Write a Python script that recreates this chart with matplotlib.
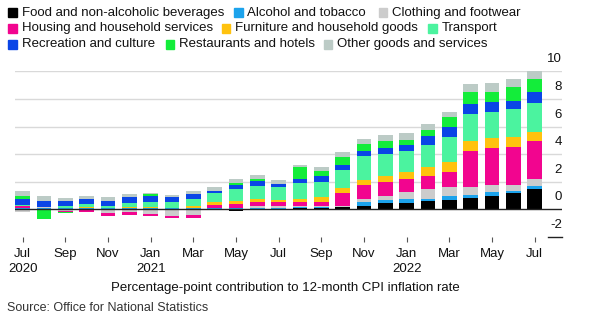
import matplotlib
matplotlib.use("Agg")
import matplotlib.pyplot as plt
import numpy as np
from matplotlib.transforms import offset_copy
from matplotlib.patches import Rectangle

plt.rcParams['font.family'] = ['Liberation Sans', 'DejaVu Sans']

months = ["Jul 2020", "Aug 2020", "Sep 2020", "Oct 2020", "Nov 2020", "Dec 2020",
          "Jan 2021", "Feb 2021", "Mar 2021", "Apr 2021", "May 2021", "Jun 2021",
          "Jul 2021", "Aug 2021", "Sep 2021", "Oct 2021", "Nov 2021", "Dec 2021",
          "Jan 2022", "Feb 2022", "Mar 2022", "Apr 2022", "May 2022", "Jun 2022",
          "Jul 2022"]

food = [-0.05, -0.03, -0.03, -0.05, 0.02, -0.04, -0.03, -0.05, -0.08, -0.05, -0.10, -0.05,
        0.04, 0.10, 0.10, 0.14, 0.27, 0.48, 0.48, 0.63, 0.68, 0.80, 0.99, 1.16, 1.45]
alcohol = [0.12, 0.12, 0.10, 0.10, 0.08, 0.10, 0.10, 0.10, 0.10, 0.08, 0.07, 0.10,
           0.07, 0.07, 0.10, 0.05, 0.25, 0.19, 0.24, 0.14, 0.29, 0.22, 0.29, 0.17, 0.24]
clothing = [-0.15, 0.02, -0.08, 0.02, -0.25, -0.18, -0.34, -0.45, -0.34, -0.03, 0.05, 0.12,
            0.10, 0.10, 0.07, 0.07, 0.24, 0.31, 0.51, 0.68, 0.68, 0.58, 0.48, 0.43, 0.48]
housing = [0.10, -0.05, -0.05, -0.12, -0.22, -0.20, -0.14, -0.14, -0.20, 0.24, 0.29, 0.34,
           0.29, 0.29, 0.29, 0.89, 0.97, 1.01, 0.97, 0.97, 1.06, 2.66, 2.71, 2.78, 2.80]
furniture = [0.04, 0.00, 0.02, 0.04, 0.02, 0.04, 0.06, 0.03, 0.14, 0.24, 0.19, 0.19,
             0.19, 0.17, 0.31, 0.39, 0.41, 0.41, 0.51, 0.68, 0.70, 0.72, 0.72, 0.68, 0.65]
transport = [0.08, 0.05, 0.10, 0.22, 0.14, 0.29, 0.34, 0.43, 0.48, 0.65, 0.84, 0.96,
             0.96, 1.14, 1.11, 1.30, 1.69, 1.64, 1.55, 1.57, 1.86, 1.91, 1.86, 2.03, 2.10]
recreation = [0.38, 0.43, 0.39, 0.34, 0.36, 0.43, 0.48, 0.36, 0.39, 0.14, 0.34, 0.36,
              0.19, 0.34, 0.43, 0.39, 0.43, 0.41, 0.41, 0.65, 0.68, 0.77, 0.72, 0.63, 0.75]
restaurants = [0.24, -0.60, -0.12, 0.00, 0.00, 0.00, 0.10, 0.00, 0.00, 0.00, 0.14, 0.14,
               0.00, 0.82, 0.39, 0.58, 0.46, 0.51, 0.36, 0.43, 0.72, 0.82, 0.75, 1.01, 0.97]
other = [0.34, 0.34, 0.24, 0.24, 0.24, 0.22, 0.12, 0.14, 0.22, 0.27, 0.24, 0.29,
         0.29, 0.17, 0.29, 0.36, 0.41, 0.46, 0.48, 0.43, 0.41, 0.60, 0.60, 0.56, 0.65]

categories = ["Food and non-alcoholic beverages", "Alcohol and tobacco", "Clothing and footwear",
              "Housing and household services", "Furniture and household goods", "Transport",
              "Recreation and culture", "Restaurants and hotels", "Other goods and services"]
colors = ["#000000", "#1ca3ec", "#cccccc", "#f2058f", "#ffc20e", "#4bf39f",
          "#0a45e6", "#13ed3a", "#bccbc6"]
series = [food, alcohol, clothing, housing, furniture, transport, recreation, restaurants, other]

tick_pos = list(range(0, 25, 2))
tick_labels = ["Jul\n2020", "Sep", "Nov", "Jan\n2021", "Mar", "May", "Jul", "Sep", "Nov",
               "Jan\n2022", "Mar", "May", "Jul"]
ytick_vals = [-2, 0, 2, 4, 6, 8, 10]
ytick_labels = ["-2", "0", "2", "4", "6", "8", "10"]

W, H = 591, 324
fig = plt.figure(figsize=(W / 100, H / 100), dpi=100)
ax = fig.add_axes([15 / W, 1 - 236.9 / H, 547 / W, 165.6 / H])

x = np.arange(len(months))
pos_base = np.zeros(len(months))
neg_base = np.zeros(len(months))
for vals, col in zip(series, colors):
    v = np.array(vals, dtype=float)
    p = np.where(v > 0, v, 0)
    n = np.where(v < 0, v, 0)
    ax.bar(x, p, bottom=pos_base, width=0.69, color=col, linewidth=0, zorder=2)
    ax.bar(x, n, bottom=neg_base, width=0.69, color=col, linewidth=0, zorder=2)
    pos_base += p
    neg_base += n

ax.set_xlim(-0.36, 25.28)
ax.set_ylim(-2, 10)

for v in ytick_vals:
    if v > 0:
        ax.axhline(v, color="#d9d9d9", lw=1.0, zorder=1)
ax.axhline(0, color="#222222", lw=1.0, zorder=3)
ax.plot([0.974, 1.0], [-2, -2], transform=ax.get_yaxis_transform(), color="#222222",
        lw=1.0, clip_on=False, zorder=3)

ytrans = offset_copy(ax.get_yaxis_transform(), fig=fig, x=0, y=12, units='dots')
for v, lab in zip(ytick_vals, ytick_labels):
    ax.text(1.0, v, lab, transform=ytrans, ha="right", va="center", fontsize=9.5,
            color="#111111")

ax.set_yticks([])
ax.set_xticks(tick_pos)
ax.set_xticklabels(tick_labels, fontsize=9.5, color="#111111", linespacing=1.35)
ax.tick_params(axis="x", length=3.5, width=0.8, color="#555555", pad=4.5)
for s in ax.spines.values():
    s.set_visible(False)

# legend (flow layout)
legend_rows = [
    [(0, 8.3), (1, 234), (2, 378.5)],
    [(3, 8.3), (4, 221.5), (5, 428.3)],
    [(6, 8.3), (7, 166), (8, 323.8)],
]
row_y = [12.7, 28.5, 44.3]
sq = 8.5
for ry, row in zip(row_y, legend_rows):
    for idx, sx in row:
        fig.patches.append(Rectangle((sx / W, 1 - (ry + sq / 2) / H), sq / W, sq / H,
                                     transform=fig.transFigure, color=colors[idx]))
        fig.text((sx + 13.2) / W, 1 - ry / H, categories[idx], fontsize=9.5,
                 va="center", ha="left", color="#111111")

fig.text(285 / W, 1 - 288.5 / H, "Percentage-point contribution to 12-month CPI inflation rate",
         fontsize=9.5, ha="center", va="center", color="#111111")
fig.text(6.8 / W, 1 - 308 / H, "Source: Office for National Statistics",
         fontsize=9, ha="left", va="center", color="#333333")

fig.savefig("out.png", dpi=100)
